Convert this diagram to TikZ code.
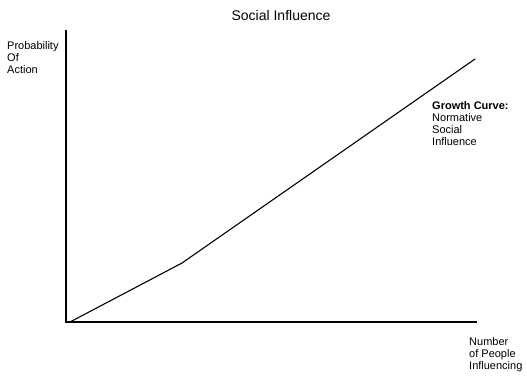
\documentclass[tikz,border=0pt]{standalone}
\usepackage{fontspec}
\setmainfont{Liberation Sans}
\begin{document}
\begin{tikzpicture}[x=1pt,y=-1pt]
	\useasboundingbox (0,0) rectangle (527,376);
	
	\coordinate (O) at (66,322);
	\coordinate (Ytop) at (66,31);
	\coordinate (Xend) at (476,322);
	\coordinate (S) at (70,322);
	\coordinate (K) at (182,263);
	\coordinate (E) at (475,59);
	
	\node (title) [font=\fontsize{14}{16}\selectfont, anchor=base] at (281,20) {Social Influence};
	
	% base anchor sits on the last line
	\begin{scope}[every node/.style={anchor=base west,align=left,inner sep=0pt,font=\fontsize{11}{12}\selectfont}]
		\node (ylab) at (7,73.3) {Probability\\Of\\Action};
		\node (xlab) at (469,369.5) {Number\\of People\\Influencing};
		\node (clab) at (432,145.5) {\textbf{Growth Curve:}\\Normative\\Social\\Influence};
	\end{scope}
	
	\begin{scope}[line cap=rect]
		\draw [line width=1.4pt] (Ytop) -- (O) -- (Xend);
		\draw [line width=1.1pt,line cap=round] (S) -- (K) -- (E);
	\end{scope}
\end{tikzpicture}
\end{document}
